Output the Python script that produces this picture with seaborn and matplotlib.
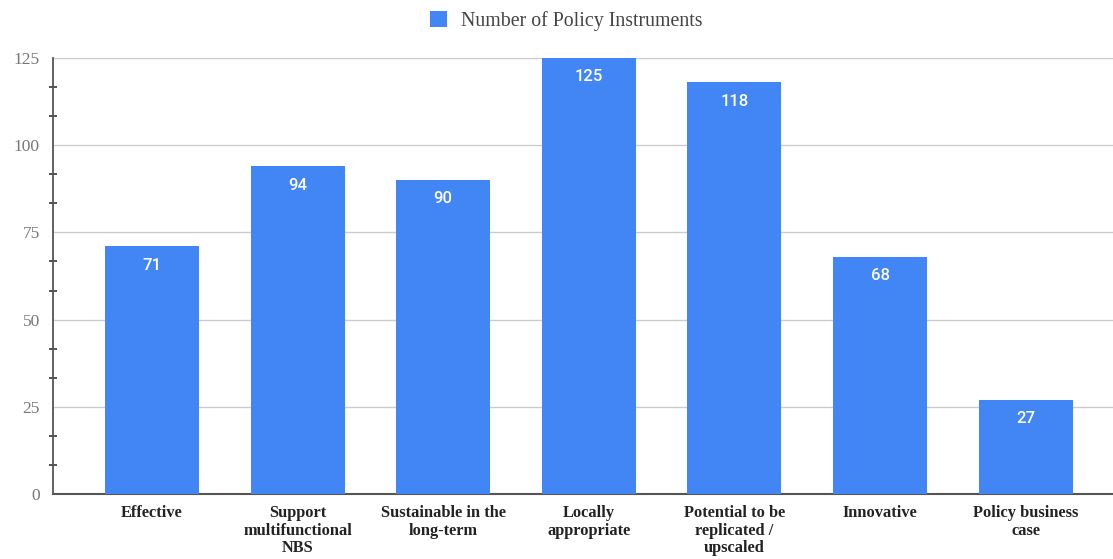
import matplotlib
matplotlib.use("Agg")
import matplotlib.pyplot as plt
import seaborn as sns
import pandas as pd
from matplotlib.ticker import MultipleLocator

# data
categories = ["Effective", "Support\nmultifunctional\nNBS", "Sustainable in the\nlong-term",
              "Locally\nappropriate", "Potential to be\nreplicated /\nupscaled",
              "Innovative", "Policy business\ncase"]
counts = [71, 94, 90, 125, 118, 68, 27]
series_name = "Number of Policy Instruments"

df = pd.DataFrame({"criterion": categories, "count": counts})

sns.set_style("white")
plt.rcParams["font.family"] = ["Liberation Serif", "DejaVu Serif"]

fig = plt.figure(figsize=(11.13, 5.59), dpi=100)
ax = fig.add_axes([0.0476, 0.1163, 0.9524, 0.7799])

sns.barplot(data=df, x="criterion", y="count", color="#4285F4", saturation=1,
            width=0.645, ax=ax, label=series_name, zorder=3, linewidth=0)

ax.set_xlim(-0.68, 6.6)
ax.set_ylim(0, 125)
ax.yaxis.set_major_locator(MultipleLocator(25))
ax.yaxis.set_minor_locator(MultipleLocator(25 / 3))
ax.grid(axis="y", color="#cccccc", linewidth=1, zorder=0)
ax.set_xlabel("")
ax.set_ylabel("")

for s in ["top", "right"]:
    ax.spines[s].set_visible(False)
ax.spines["left"].set_color("#555555")
ax.spines["left"].set_linewidth(1.3)
ax.spines["bottom"].set_color("#555555")
ax.spines["bottom"].set_linewidth(1.5)

ax.tick_params(axis="y", which="major", direction="inout", length=11, width=1.3,
               color="#444444", labelcolor="#777777", labelsize=12.5, pad=4)
ax.tick_params(axis="y", which="minor", direction="inout", length=6, width=1.2,
               color="#333333", left=True)
ax.tick_params(axis="x", length=0, labelsize=11.8, labelcolor="#222222", pad=8)
for lbl in ax.get_xticklabels():
    lbl.set_fontweight("bold")
    lbl.set_linespacing(1.12)

for c in ax.containers:
    ax.bar_label(c, labels=[str(v) for v in counts], padding=-19, color="white",
                 fontsize=12, fontweight="medium", family=["Roboto", "DejaVu Sans"])

leg = ax.get_legend()
if leg is not None:
    leg.remove()
fig.legend(*ax.get_legend_handles_labels(), loc="upper center", bbox_to_anchor=(0.509, 1.012),
           frameon=False, fontsize=14.3, handlelength=0.85, handleheight=0.85,
           handletextpad=0.7, labelcolor="#444444")

fig.savefig("out.png", dpi=100)
